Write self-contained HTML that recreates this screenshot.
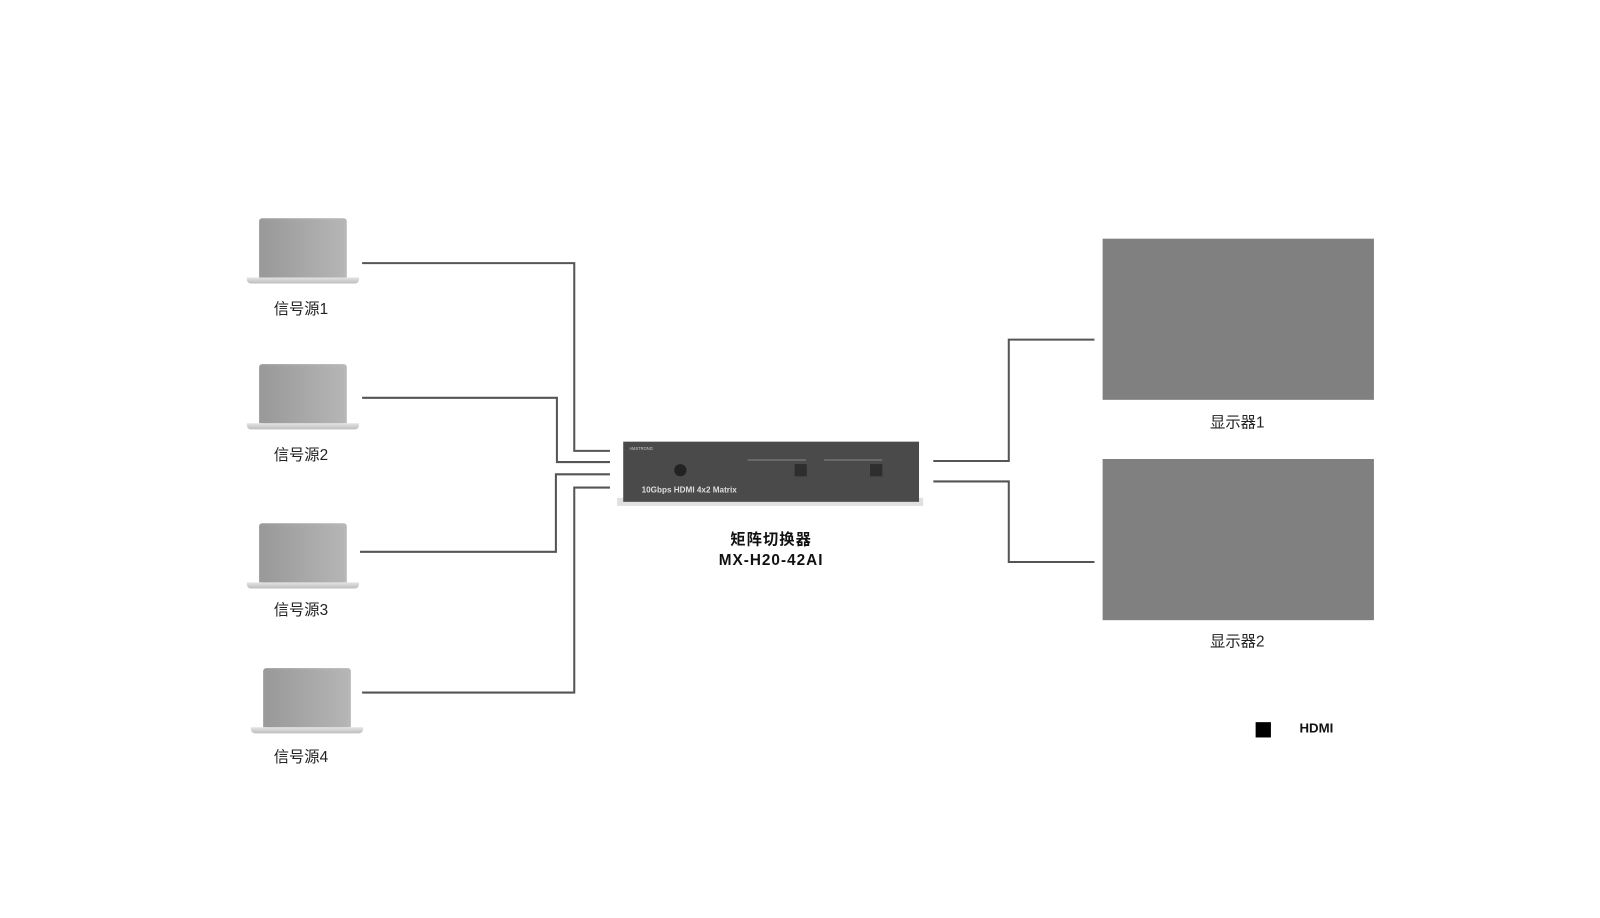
<!DOCTYPE html>
<html><head><meta charset="utf-8"><style>
body{margin:0;width:1600px;height:900px;background:#fff;position:relative;overflow:hidden;font-family:"Liberation Sans","Noto Sans CJK SC",sans-serif}
#w{position:absolute;left:0;top:0;width:1600px;height:900px;transform:scale(1.02);transform-origin:0 0}
.lt{position:absolute;width:110px;height:66px}
.lt .s{position:absolute;left:12px;top:0;width:86px;height:58px;background:linear-gradient(90deg,#9a9a9a,#b8b8b8);border-radius:3px 3px 0 0}
.lt .s:after{content:"";position:absolute;left:3px;top:3px;right:3px;bottom:0;background:linear-gradient(90deg,#999,#b5b5b5)}
.lt .b{position:absolute;left:0;top:58px;width:110px;height:6px;background:linear-gradient(#e4e4e4,#bdbdbd);border-radius:0 0 4px 4px}
.lb{position:absolute;font-size:15px;color:#222;width:120px;text-align:center}
.scr{position:absolute;left:1081px;width:266px;height:158px;background:#808080}
</style></head><body><div id="w">
<svg width="1600" height="900" style="position:absolute;left:0;top:0">
<g fill="none" stroke="#555" stroke-width="2">
<polyline points="355,258 563,258 563,442 598,442"/>
<polyline points="355,390 546,390 546,453 598,453"/>
<polyline points="353,541 545,541 545,465 598,465"/>
<polyline points="355,679 563,679 563,478 598,478"/>
<polyline points="915,452 989,452 989,333 1073,333"/>
<polyline points="915,472 989,472 989,551 1073,551"/>
</g>
<rect x="605" y="488" width="300" height="8" fill="#ccc" opacity="0.6"/>
<rect x="611" y="433" width="290" height="59" fill="#4a4a4a"/>
<circle cx="667" cy="461" r="6" fill="#222"/>
<rect x="779" y="455" width="12" height="12" fill="#2e2e2e"/>
<rect x="853" y="455" width="12" height="12" fill="#2e2e2e"/>
<line x1="733" y1="451" x2="790" y2="451" stroke="#888"/>
<line x1="808" y1="451" x2="865" y2="451" stroke="#888"/>
<text x="629" y="483" font-size="8" font-weight="bold" fill="#ddd" font-family="Liberation Sans">10Gbps HDMI 4x2 Matrix</text>
<text x="617" y="441" font-size="4" fill="#ccc" font-family="Liberation Sans">AMSTRONG</text>
</svg>
<div class="lt" style="left:242px;top:214px"><div class="s"></div><div class="b"></div></div>
<div class="lt" style="left:242px;top:357px"><div class="s"></div><div class="b"></div></div>
<div class="lt" style="left:242px;top:513px"><div class="s"></div><div class="b"></div></div>
<div class="lt" style="left:246px;top:655px"><div class="s"></div><div class="b"></div></div>
<div class="lb" style="left:235px;top:292px">信号源1</div>
<div class="lb" style="left:235px;top:435px">信号源2</div>
<div class="lb" style="left:235px;top:587px">信号源3</div>
<div class="lb" style="left:235px;top:731px">信号源4</div>
<div class="scr" style="top:234px"></div>
<div class="scr" style="top:450px"></div>
<div class="lb" style="left:1153px;top:403px">显示器1</div>
<div class="lb" style="left:1153px;top:618px">显示器2</div>
<div style="position:absolute;left:656px;top:520px;width:200px;text-align:center;font-size:15px;font-weight:bold;color:#111;line-height:20px;letter-spacing:1px">矩阵切换器<br>MX-H20-42AI</div>
<div style="position:absolute;left:1231px;top:708px;width:15px;height:15px;background:#000"></div>
<div style="position:absolute;left:1274px;top:706px;font-size:13px;font-weight:bold;color:#111">HDMI</div>
</div></body></html>
